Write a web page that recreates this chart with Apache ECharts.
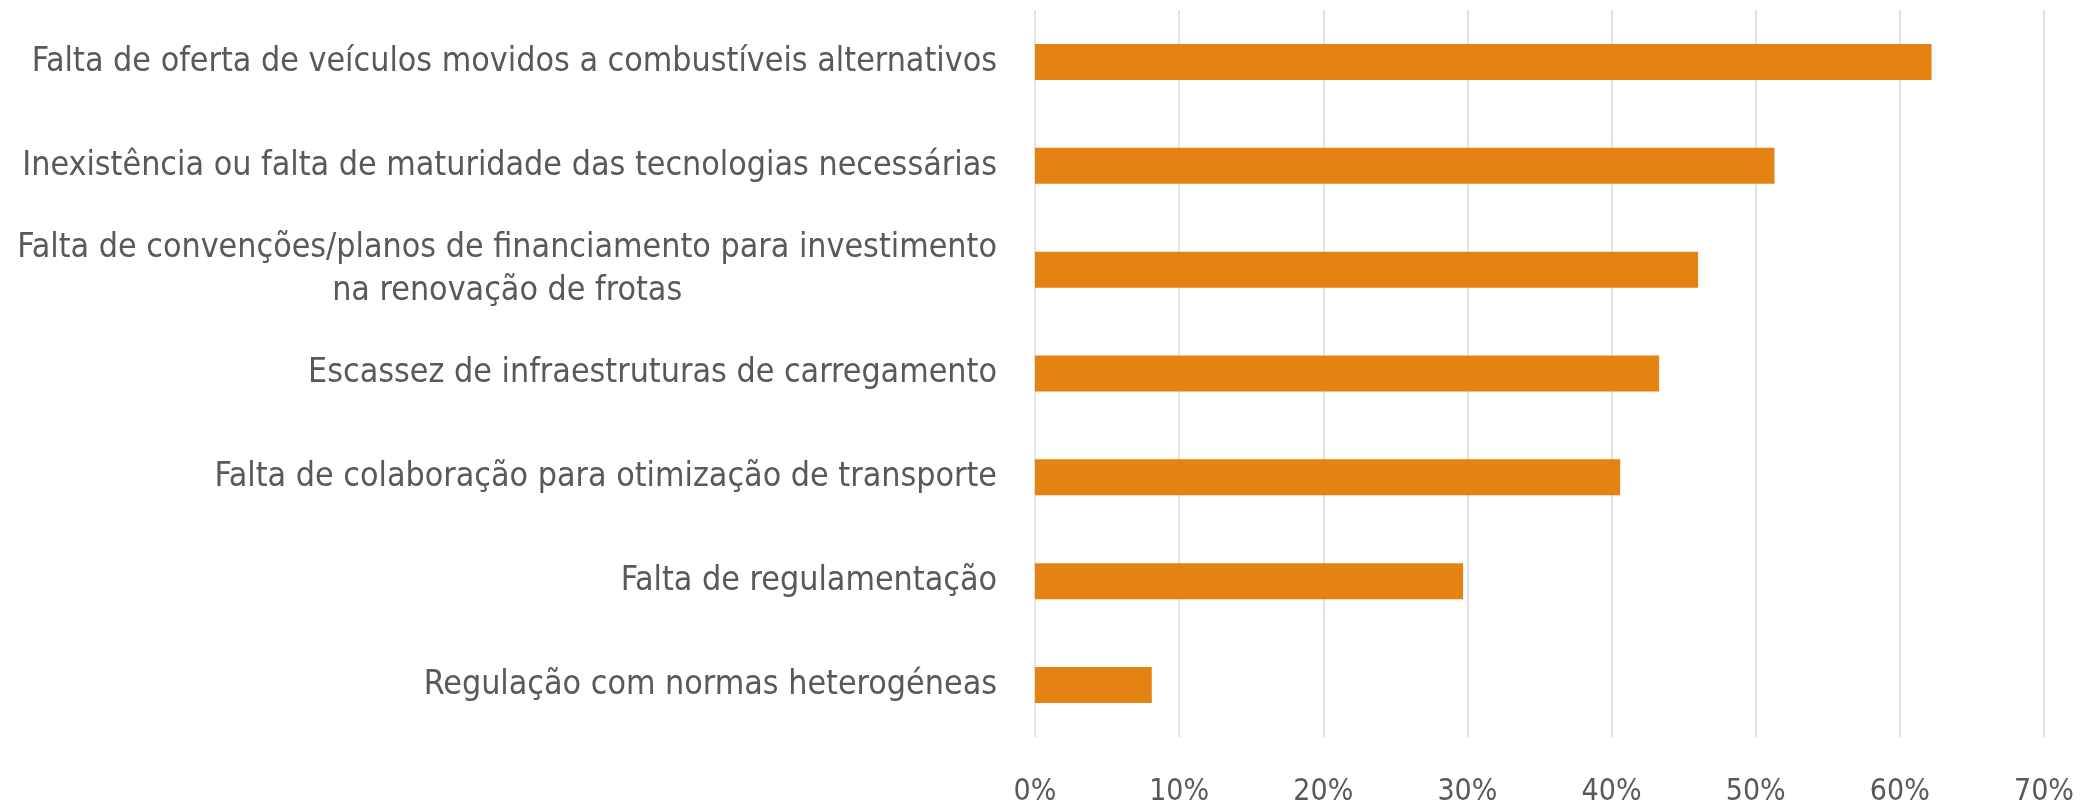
<!DOCTYPE html>
<html>
<head>
<meta charset="utf-8">
<script src="https://cdn.jsdelivr.net/npm/echarts@6/dist/echarts.min.js"></script>
<style>
    html, body { margin: 0; padding: 0; background: #fff; }
    #chart { width: 2099px; height: 806px; }
</style>
</head>
<body>
<div id="chart"></div>
<script>
// categories, top to bottom
var categories = [
    'Falta de oferta de veículos movidos a combustíveis alternativos',
    'Inexistência ou falta de maturidade das tecnologias necessárias',
    'Falta de convenções/planos de financiamento para investimento\nna renovação de frotas',
    'Escassez de infraestruturas de carregamento',
    'Falta de colaboração para otimização de transporte',
    'Falta de regulamentação',
    'Regulação com normas heterogéneas'
];
// percent values
var values = [62.2, 51.3, 46.0, 43.3, 40.6, 29.7, 8.1];
var xTicks = { min: 0, max: 70, step: 10 };

var font = '"DejaVu Sans Condensed", sans-serif';
var textColor = '#595959';

var myChart = echarts.init(document.getElementById('chart'));
var option = {
    animation: false,
    grid: {
        left: 1035,
        right: 55,
        top: 10,
        bottom: 69,
        containLabel: false,
        outerBoundsMode: 'none'
    },
    xAxis: {
        type: 'value',
        min: xTicks.min,
        max: xTicks.max,
        interval: xTicks.step,
        axisLine: { show: false },
        axisTick: { show: false },
        axisLabel: {
            formatter: '{value}%',
            color: textColor,
            fontFamily: font,
            fontSize: 30,
            margin: 40
        },
        splitLine: {
            lineStyle: { color: '#d9d9d9', width: 1.5 }
        }
    },
    yAxis: {
        type: 'category',
        inverse: true,
        data: categories,
        axisLine: { show: false },
        axisTick: { show: false },
        axisLabel: {
            margin: 38,
            formatter: function (v) {
                return v.split('\n').map(function (s) { return '{a|' + s + '}'; }).join('\n');
            },
            rich: {
                a: {
                    align: 'center',
                    color: textColor,
                    fontFamily: font,
                    fontSize: 33.7,
                    lineHeight: 43
                }
            }
        }
    },
    series: [{
        type: 'bar',
        data: values,
        barWidth: 36,
        itemStyle: { color: '#e58312' }
    }]
};
myChart.setOption(option);
</script>
</body>
</html>
